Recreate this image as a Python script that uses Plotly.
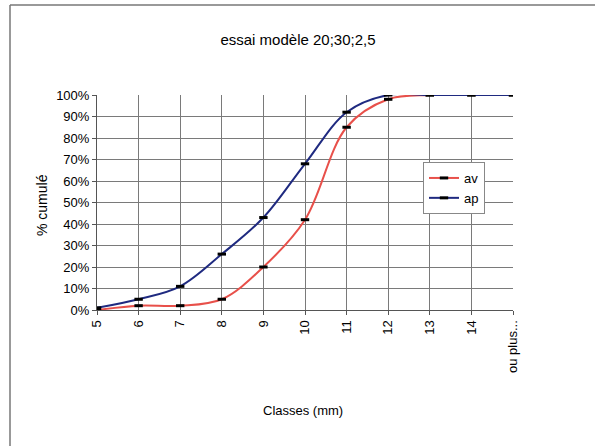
import plotly.graph_objects as go

classes = ["5", "6", "7", "8", "9", "10", "11", "12", "13", "14", "ou plus..."]
av = [0.00, 0.02, 0.02, 0.05, 0.20, 0.42, 0.85, 0.98, 1.00, 1.00, 1.00]
ap = [0.01, 0.05, 0.11, 0.26, 0.43, 0.68, 0.92, 1.00, 1.00, 1.00, 1.00]

FONT = "Liberation Sans, Arial, sans-serif"
L, R, T, B = 97, 513, 95, 310
W, H = R - L, B - T

marker = dict(symbol="line-ew", size=6, color="black", line=dict(color="black", width=3))

fig = go.Figure()
fig.add_trace(go.Scatter(
    x=classes, y=av, name="av", mode="lines+markers",
    line=dict(color="#E8504A", width=2, shape="spline", smoothing=1.0),
    marker=marker,
))
fig.add_trace(go.Scatter(
    x=classes, y=ap, name="ap", mode="lines+markers",
    line=dict(color="#1F2A80", width=2, shape="spline", smoothing=1.0),
    marker=marker,
))

fig.update_layout(
    width=595, height=446,
    margin=dict(l=L, r=595 - R, t=T, b=446 - B),
    paper_bgcolor="white", plot_bgcolor="white",
    font=dict(family=FONT, size=13, color="black"),
    title=dict(text="essai modèle 20;30;2,5", x=(298 - L) / W, xref="paper", xanchor="center",
               y=1 - 40 / 446, yanchor="middle", font=dict(family=FONT, size=15, color="black")),
    showlegend=True,
    legend=dict(x=(423 - L) / W, y=(B - 162) / H, xanchor="left", yanchor="top",
                bordercolor="#888888", borderwidth=1, bgcolor="white",
                font=dict(family=FONT, size=13), itemwidth=30, tracegroupgap=10),
    xaxis=dict(type="category", range=[0, 10], showgrid=True, gridcolor="#7a7a7a", gridwidth=1,
               showline=True, linecolor="#555555", ticks="outside", ticklen=4, tickcolor="#555555",
               tickangle=-90, tickfont=dict(family=FONT, size=13), zeroline=False),
    yaxis=dict(range=[0, 1], dtick=0.1, tickformat=".0%", showgrid=True, gridcolor="#7a7a7a",
               gridwidth=1, showline=True, linecolor="#555555", ticks="outside", ticklen=4,
               tickcolor="#555555", tickfont=dict(family=FONT, size=13), zeroline=False),
    annotations=[
        dict(text="% cumulé", xref="paper", yref="paper", x=(42 - L) / W, y=(B - 205) / H,
             textangle=-90, showarrow=False, font=dict(family=FONT, size=14),
             xanchor="center", yanchor="middle"),
        dict(text="Classes (mm)", xref="paper", yref="paper", x=(303 - L) / W, y=(B - 410) / H,
             showarrow=False, font=dict(family=FONT, size=13), xanchor="center", yanchor="middle"),
    ],
    shapes=[
        dict(type="line", xref="paper", yref="paper", x0=(10 - L) / W, x1=(10 - L) / W,
             y0=(B - 446) / H, y1=(B - 5) / H, line=dict(color="#777777", width=1.5)),
        dict(type="line", xref="paper", yref="paper", x0=(10 - L) / W, x1=(595 - L) / W,
             y0=(B - 5) / H, y1=(B - 5) / H, line=dict(color="#777777", width=1.5)),
    ],
)

fig.write_html(
    "out.html",
    config={"displayModeBar": False},
    post_script="document.body.style.margin='0';document.body.style.overflow='hidden';",
)
